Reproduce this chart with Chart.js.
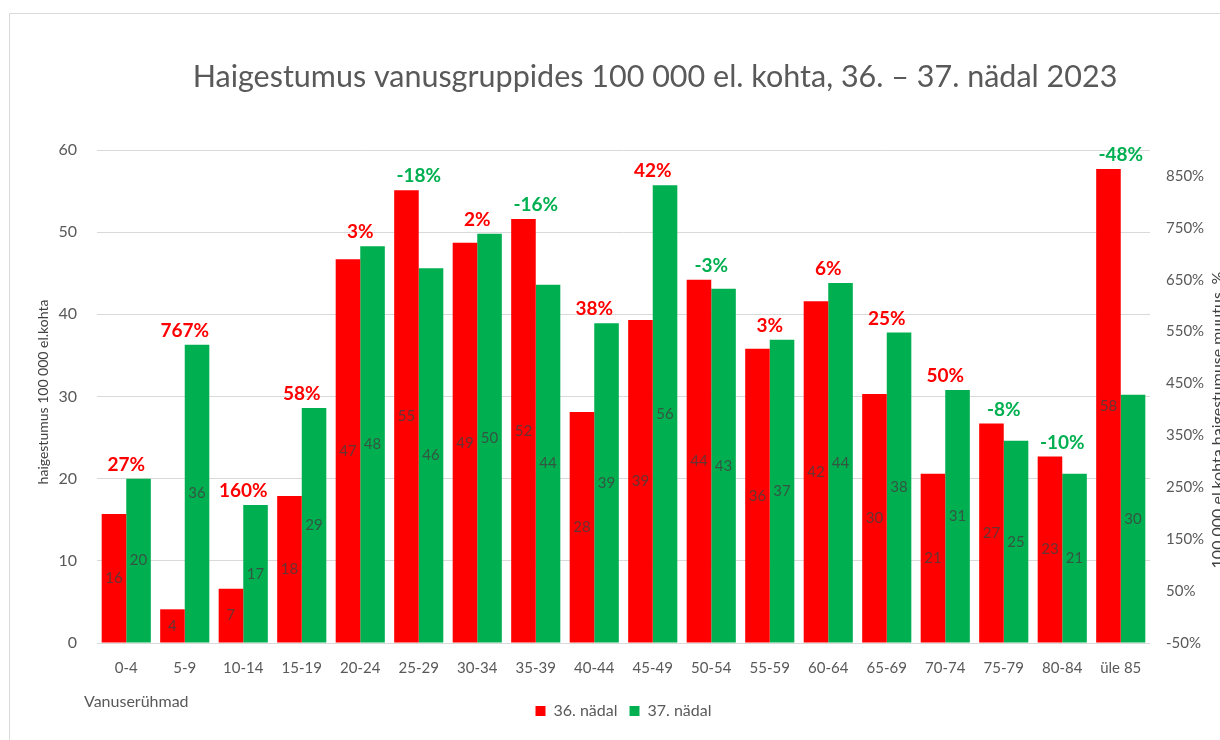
<!DOCTYPE html>
<html lang="et">
<head>
<meta charset="utf-8">
<title>Haigestumus vanusgruppides</title>
<script src="https://cdn.jsdelivr.net/npm/chart.js@4.4.1/dist/chart.umd.min.js"></script>
<style>
  html, body { margin: 0; padding: 0; background: #fff; }
  #wrap { width: 1220px; height: 740px; position: relative; }
</style>
</head>
<body>
<div id="wrap"><canvas id="graafik" width="1220" height="740"></canvas></div>
<script>
// vanuserühmad ja haigestumus 100 000 el. kohta
const vanuserühmad = ['0-4','5-9','10-14','15-19','20-24','25-29','30-34','35-39','40-44',
                      '45-49','50-54','55-59','60-64','65-69','70-74','75-79','80-84','üle 85'];
const nadal36 = [15.7, 4.1, 6.6, 17.9, 46.7, 55.1, 48.7, 51.6, 28.1,
                 39.3, 44.2, 35.8, 41.6, 30.3, 20.6, 26.7, 22.7, 57.7];
const nadal37 = [20.0, 36.3, 16.8, 28.6, 48.3, 45.6, 49.8, 43.6, 38.9,
                 55.7, 43.1, 36.9, 43.8, 37.8, 30.8, 24.6, 20.6, 30.2];
// muutus protsentides (36. -> 37. nädal)
const muutus = [27, 767, 160, 58, 3, -18, 2, -16, 38, 42, -3, 3, 6, 25, 50, -8, -10, -48];
// parempoolse telje sildid
const protsendiTikid = [-50, 50, 150, 250, 350, 450, 550, 650, 750, 850];

const PUNANE = '#FF0000';
const ROHELINE = '#00B050';
const HALL = '#595959';
const FONT = 'Lato, "Open Sans", sans-serif';

// Tekstid, mida Chart.js ise täpselt paigutada ei oska
const tekstid = {
  id: 'tekstid',
  beforeDraw(chart) {
    const ctx = chart.ctx;
    ctx.save();
    ctx.strokeStyle = '#d9d9d9';
    ctx.lineWidth = 1;
    ctx.beginPath();
    ctx.moveTo(9.5, 740);
    ctx.lineTo(9.5, 13.5);
    ctx.lineTo(1220, 13.5);
    ctx.stroke();
    ctx.restore();
  },
  afterDraw(chart) {
    const ctx = chart.ctx;
    const x = chart.scales.x;
    const y = chart.scales.y;
    ctx.save();

    // pealkiri
    ctx.fillStyle = HALL;
    ctx.font = '30.5px ' + FONT;
    ctx.textAlign = 'center';
    ctx.textBaseline = 'middle';
    ctx.fillText('Haigestumus vanusgruppides 100 000 el. kohta, 36. – 37. nädal 2023', 655, 77);

    // väärtused tulpade sees
    ctx.font = '15px ' + FONT;
    ctx.fillStyle = '#404040';
    ctx.globalAlpha = 0.8;
    [0, 1].forEach(di => {
      const meta = chart.getDatasetMeta(di);
      const andmed = di === 0 ? nadal36 : nadal37;
      meta.data.forEach((bar, i) => {
        const yy = (bar.y + bar.base) / 2;
        ctx.fillText(Math.round(andmed[i]), bar.x, yy);
      });
    });
    ctx.globalAlpha = 1;

    // muutuse protsendid paari kohal
    ctx.font = 'bold 19px ' + FONT;
    muutus.forEach((m, i) => {
      const kõrgeim = Math.max(nadal36[i], nadal37[i]);
      ctx.fillStyle = m < 0 ? ROHELINE : PUNANE;
      ctx.fillText(m + '%', x.getPixelForValue(i), y.getPixelForValue(kõrgeim) - 14);
    });

    // telgede pealkirjad
    ctx.fillStyle = '#404040';
    ctx.font = '14px ' + FONT;
    ctx.translate(43, 392);
    ctx.rotate(-Math.PI / 2);
    ctx.fillText('haigestumus 100 000 el.kohta', 0, 0);
    ctx.setTransform(1, 0, 0, 1, 0, 0);

    ctx.font = '16px ' + FONT;
    ctx.textBaseline = 'top';
    ctx.translate(1210, 420);
    ctx.rotate(-Math.PI / 2);
    ctx.fillText('100 000 el.kohta haigestumuse muutus, %', 0, 0);
    ctx.setTransform(1, 0, 0, 1, 0, 0);

    ctx.fillStyle = HALL;
    ctx.font = '16px ' + FONT;
    ctx.textAlign = 'left';
    ctx.textBaseline = 'middle';
    ctx.fillText('Vanuserühmad', 84, 702);

    ctx.restore();
  }
};

new Chart(document.getElementById('graafik'), {
  type: 'bar',
  data: {
    labels: vanuserühmad,
    datasets: [
      { label: '36. nädal', data: nadal36, backgroundColor: PUNANE, yAxisID: 'y',
        categoryPercentage: 0.84, barPercentage: 1.0 },
      { label: '37. nädal', data: nadal37, backgroundColor: ROHELINE, yAxisID: 'y',
        categoryPercentage: 0.84, barPercentage: 1.0 }
    ]
  },
  options: {
    responsive: false,
    animation: false,
    layout: { padding: { top: 150, left: 0, right: 0, bottom: 11 } },
    plugins: {
      title: { display: false },
      tooltip: { enabled: false },
      legend: {
        position: 'bottom',
        fullSize: false,
        labels: {
          boxWidth: 10, boxHeight: 10, padding: 12,
          color: HALL, font: { family: FONT, size: 16 }
        }
      }
    },
    scales: {
      x: {
        grid: { display: false },
        border: { display: false },
        ticks: { color: HALL, font: { family: FONT, size: 15 }, padding: 8,
                 maxRotation: 0, autoSkip: false },
        afterFit: s => { s.height = 48; }
      },
      y: {
        position: 'left',
        min: 0, max: 60,
        ticks: { stepSize: 10, color: HALL, font: { family: FONT, size: 16 }, padding: 20 },
        grid: { color: '#d9d9d9', drawTicks: false },
        border: { display: false },
        afterFit: s => { s.width = 97; }
      },
      y1: {
        position: 'right',
        min: -50, max: 900,
        afterBuildTicks: s => { s.ticks = protsendiTikid.map(v => ({ value: v })); },
        ticks: { color: HALL, font: { family: FONT, size: 15 }, padding: 16,
                 callback: v => v + '%' },
        grid: { display: false, drawTicks: false },
        border: { display: false },
        afterFit: s => { s.width = 70; }
      }
    }
  },
  plugins: [tekstid]
});
</script>
</body>
</html>
